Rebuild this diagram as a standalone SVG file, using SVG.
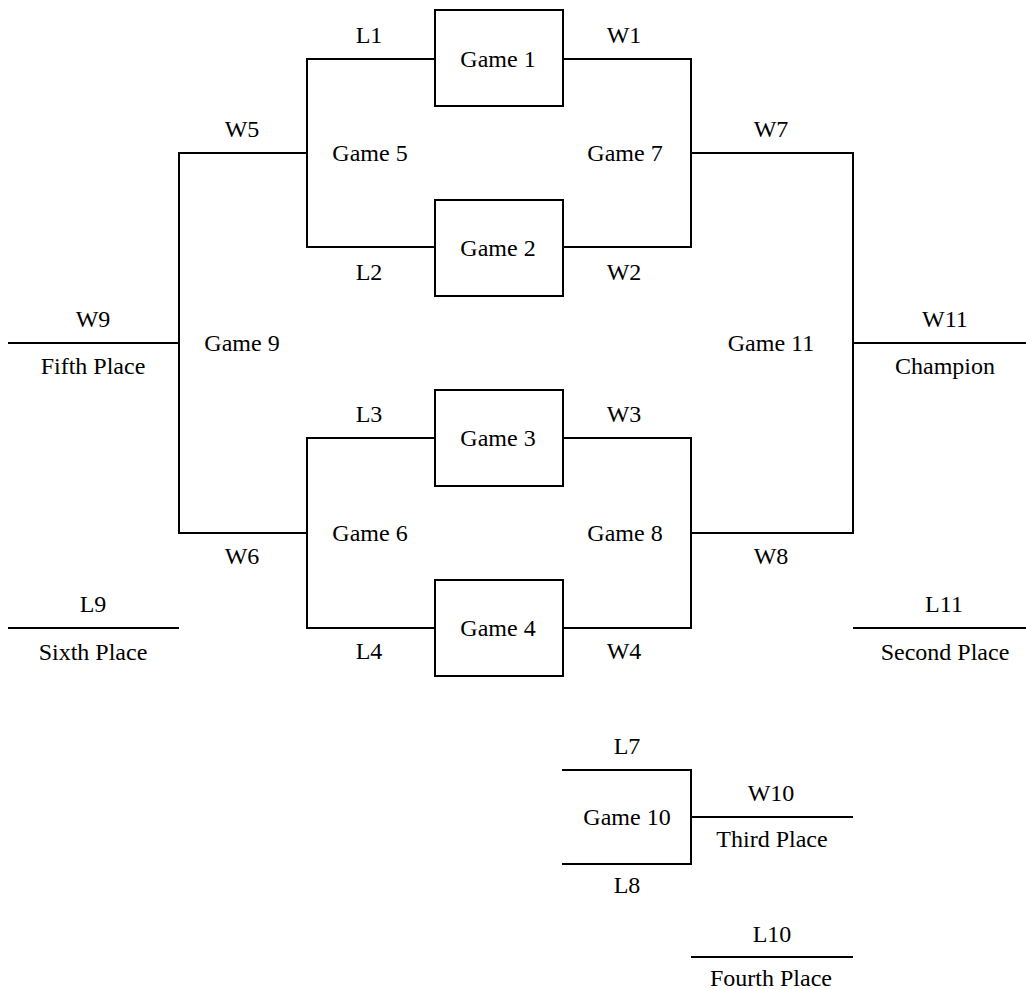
<svg xmlns="http://www.w3.org/2000/svg" width="1026" height="989" viewBox="0 0 1026 989">
<style>
.box{fill:#ffffff;stroke:#000000;stroke-width:2}
.ln{fill:none;stroke:#000000;stroke-width:2}
</style>
<rect x="0" y="0" width="1026" height="989" fill="#ffffff"/>
<g font-family="Liberation Serif" font-size="24" text-anchor="middle" fill="#000000">
<g id="connectors">
<path class="ln" d="M435,59 H307 V247 H435"/>
<path class="ln" d="M563,59 H691 V247 H563"/>
<path class="ln" d="M435,438 H307 V628 H435"/>
<path class="ln" d="M563,438 H691 V628 H563"/>
<path class="ln" d="M307,153 H179 V533 H307"/>
<path class="ln" d="M691,153 H853 V533 H691"/>
<path class="ln" d="M179,343 H8"/>
<path class="ln" d="M853,343 H1026"/>
<path class="ln" d="M8,628 H179"/>
<path class="ln" d="M853,628 H1026"/>
<path class="ln" d="M562,770 H691 V864 H562"/>
<path class="ln" d="M691,817 H853"/>
<path class="ln" d="M691,957 H853"/>
<text x="369" y="43">L1</text>
<text x="624" y="43">W1</text>
<text x="369" y="280">L2</text>
<text x="624" y="280">W2</text>
<text x="369" y="422">L3</text>
<text x="624" y="422">W3</text>
<text x="369" y="659">L4</text>
<text x="624" y="659">W4</text>
<text x="242" y="137">W5</text>
<text x="771" y="137">W7</text>
<text x="242" y="564">W6</text>
<text x="771" y="564">W8</text>
<text x="627" y="754">L7</text>
<text x="627" y="893">L8</text>
</g>
<g id="game1"><rect class="box" x="435" y="10" width="128" height="96"/><text x="498" y="67">Game 1</text></g>
<g id="game2"><rect class="box" x="435" y="200" width="128" height="96"/><text x="498" y="256">Game 2</text></g>
<g id="game3"><rect class="box" x="435" y="390" width="128" height="96"/><text x="498" y="446">Game 3</text></g>
<g id="game4"><rect class="box" x="435" y="580" width="128" height="96"/><text x="498" y="636">Game 4</text></g>
<g id="game5"><text x="370" y="161">Game 5</text></g>
<g id="game6"><text x="370" y="541">Game 6</text></g>
<g id="game7"><text x="625" y="161">Game 7</text></g>
<g id="game8"><text x="625" y="541">Game 8</text></g>
<g id="game9"><text x="242" y="351">Game 9</text></g>
<g id="game10"><text x="627" y="825">Game 10</text></g>
<g id="game11"><text x="771" y="351">Game 11</text></g>
<g id="fifth"><text x="93" y="327">W9</text><text x="93" y="374">Fifth Place</text></g>
<g id="sixth"><text x="93" y="612">L9</text><text x="93" y="660">Sixth Place</text></g>
<g id="champion"><text x="945" y="327">W11</text><text x="945" y="374">Champion</text></g>
<g id="second"><text x="944" y="612">L11</text><text x="945" y="660">Second Place</text></g>
<g id="third"><text x="771" y="801">W10</text><text x="772" y="847">Third Place</text></g>
<g id="fourth"><text x="772" y="942">L10</text><text x="771" y="986">Fourth Place</text></g>
</g>
</svg>
